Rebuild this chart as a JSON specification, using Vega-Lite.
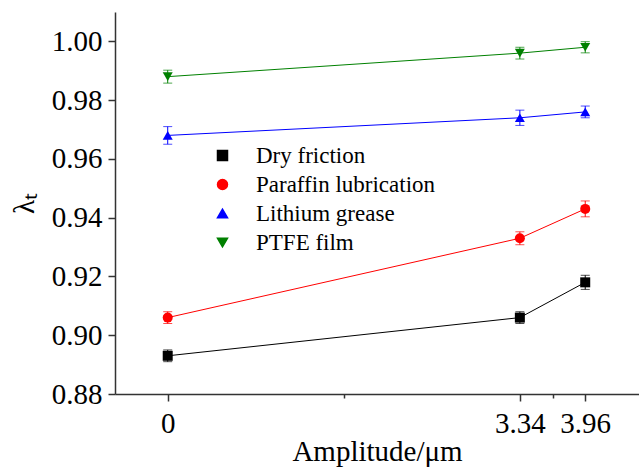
{
  "$schema": "https://vega.github.io/schema/vega-lite/v6.json",
  "autosize": "none",
  "width": 524,
  "height": 382,
  "padding": {"left": 115, "top": 12, "right": 0, "bottom": 75},
  "background": "white",
  "config": {
    "view": {"stroke": null},
    "axis": {
      "grid": false,
      "domainColor": "#333333",
      "domainWidth": 1.5,
      "tickColor": "#333333",
      "tickWidth": 1.5,
      "labelFont": "Liberation Serif",
      "labelFontSize": 29,
      "labelColor": "#000000",
      "titleFont": "Liberation Serif",
      "titleFontSize": 29,
      "titleFontWeight": "normal",
      "titleColor": "#000000",
      "labelOverlap": false
    },
    "legend": {
      "labelFont": "Liberation Serif",
      "labelFontSize": 23,
      "labelColor": "#000000",
      "labelLimit": 0
    }
  },
  "data": {
    "values": [
      {"series": "Dry friction", "amp": 0, "val": 0.893, "lo": 0.891, "hi": 0.895},
      {"series": "Dry friction", "amp": 3.34, "val": 0.906, "lo": 0.904, "hi": 0.908},
      {"series": "Dry friction", "amp": 3.96, "val": 0.918, "lo": 0.9156, "hi": 0.9204},
      {"series": "Paraffin lubrication", "amp": 0, "val": 0.906, "lo": 0.904, "hi": 0.908},
      {"series": "Paraffin lubrication", "amp": 3.34, "val": 0.933, "lo": 0.9308, "hi": 0.9352},
      {"series": "Paraffin lubrication", "amp": 3.96, "val": 0.943, "lo": 0.9403, "hi": 0.9457},
      {"series": "Lithium grease", "amp": 0, "val": 0.968, "lo": 0.965, "hi": 0.971},
      {"series": "Lithium grease", "amp": 3.34, "val": 0.974, "lo": 0.9714, "hi": 0.9766},
      {"series": "Lithium grease", "amp": 3.96, "val": 0.976, "lo": 0.974, "hi": 0.978},
      {"series": "PTFE film", "amp": 0, "val": 0.988, "lo": 0.9858, "hi": 0.9902},
      {"series": "PTFE film", "amp": 3.34, "val": 0.996, "lo": 0.994, "hi": 0.998},
      {"series": "PTFE film", "amp": 3.96, "val": 0.998, "lo": 0.9961, "hi": 0.9999}
    ]
  },
  "encoding": {
    "x": {
      "field": "amp",
      "type": "quantitative",
      "title": "Amplitude/μm",
      "scale": {"domain": [-0.5, 4.47], "nice": false, "zero": false},
      "axis": {
        "values": [0, 1.67, 3.34, 3.65, 3.96],
        "labelExpr": "datum.value == 0 ? '0' : datum.value == 3.34 ? '3.34' : datum.value == 3.96 ? '3.96' : ''",
        "tickSize": {"condition": {"test": "datum.value == 1.67 || datum.value == 3.65", "value": 4}, "value": 7},
        "labelPadding": 8,
        "titlePadding": -1
      }
    },
    "color": {
      "field": "series",
      "type": "nominal",
      "scale": {
        "domain": ["Dry friction", "Paraffin lubrication", "Lithium grease", "PTFE film"],
        "range": ["#000000", "#ff0000", "#0000ff", "#008000"]
      },
      "legend": {
        "title": null,
        "orient": "none",
        "legendX": 96,
        "legendY": 132,
        "padding": 0,
        "symbolSize": 100,
        "symbolOpacity": 1,
        "labelOffset": 22,
        "labelLimit": 0,
        "rowPadding": 5
      }
    }
  },
  "layer": [
    {
      "mark": {"type": "line", "strokeWidth": 1},
      "encoding": {
        "y": {
          "field": "val",
          "type": "quantitative",
          "title": "λₜ",
          "scale": {"domain": [0.88, 1.01], "nice": false, "zero": false},
          "axis": {
            "values": [0.88, 0.89, 0.9, 0.91, 0.92, 0.93, 0.94, 0.95, 0.96, 0.97, 0.98, 0.99, 1.0, 1.01],
            "labelExpr": "round(datum.value*100) % 2 == 0 ? format(datum.value, '.2f') : ''",
            "tickSize": {"condition": {"test": "round(datum.value*100) % 2 == 1", "value": 4}, "value": 7},
            "labelPadding": 6,
            "titlePadding": 12
          }
        }
      }
    },
    {
      "mark": {"type": "errorbar", "ticks": {"size": 9, "thickness": 1}, "thickness": 1},
      "encoding": {
        "y": {"field": "lo", "type": "quantitative", "title": "λₜ"},
        "y2": {"field": "hi"}
      }
    },
    {
      "mark": {"type": "point", "filled": true, "size": 100, "opacity": 1},
      "encoding": {
        "y": {"field": "val", "type": "quantitative", "title": "λₜ"},
        "shape": {
          "field": "series",
          "type": "nominal",
          "scale": {
            "domain": ["Dry friction", "Paraffin lubrication", "Lithium grease", "PTFE film"],
            "range": ["square", "circle", "triangle-up", "triangle-down"]
          },
          "legend": null
        }
      }
    }
  ]
}
